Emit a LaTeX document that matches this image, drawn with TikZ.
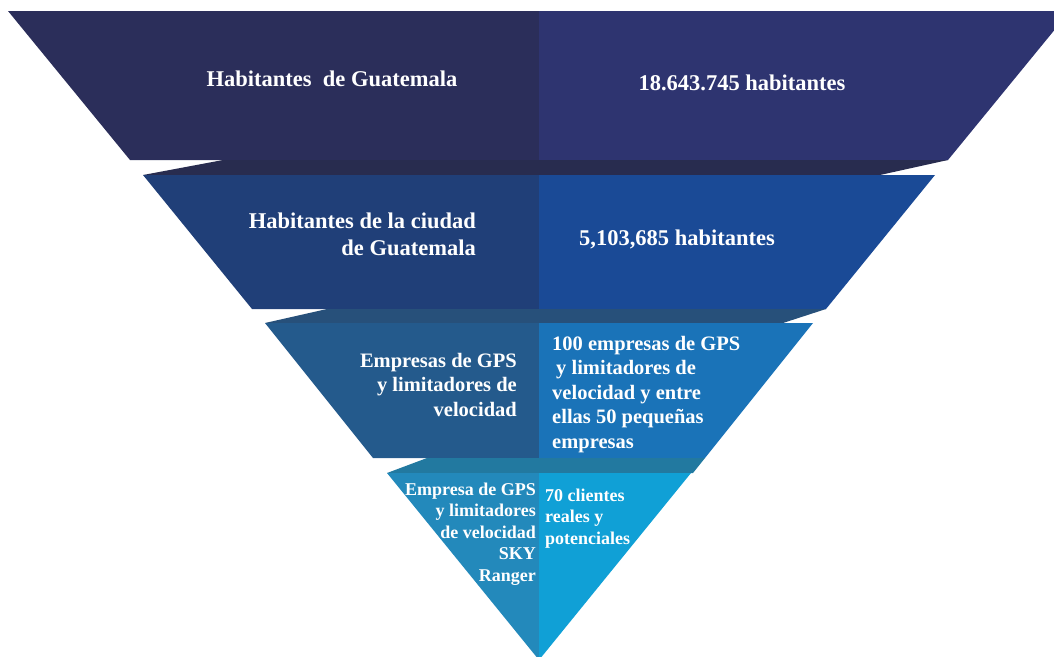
\documentclass[tikz,border=0pt]{standalone}
\usepackage{fontspec}
\setmainfont{Liberation Serif}
\definecolor{aL}{HTML}{2B2E5A}
\definecolor{aR}{HTML}{2E3470}
\definecolor{aS}{HTML}{282C4F}
\definecolor{bL}{HTML}{203F78}
\definecolor{bR}{HTML}{1A4A96}
\definecolor{bS}{HTML}{27507A}
\definecolor{cL}{HTML}{245A8C}
\definecolor{cR}{HTML}{1A73B8}
\definecolor{cS}{HTML}{2279A0}
\definecolor{dL}{HTML}{2389BB}
\definecolor{dR}{HTML}{10A0D6}
\tikzset{
  lbl/.style={text=white, inner sep=0pt, font=\bfseries},
  big/.style={lbl, font=\bfseries\fontsize{22.5}{27}\selectfont},
  mid/.style={lbl, font=\bfseries\fontsize{20.5}{24.5}\selectfont},
  sml/.style={lbl, font=\bfseries\fontsize{18}{21.5}\selectfont},
}
\begin{document}
\begin{tikzpicture}[x=1pt,y=-1pt]
\useasboundingbox (0,0) rectangle (1054,656);
\clip (0,0) rectangle (1054,656);
% layer 1
\fill[aL] (8,11) -- (539,11) -- (539,160) -- (130,160) -- cycle;
\fill[aR] (539,11) -- (1070,11) -- (948,160) -- (539,160) -- cycle;
\fill[aS] (223,160) -- (948,160) -- (880,175) -- (143,175) -- cycle;
% layer 2
\fill[bL] (143,175) -- (539,175) -- (539,309) -- (252,309) -- cycle;
\fill[bR] (539,175) -- (935,175) -- (826,309) -- (539,309) -- cycle;
\fill[bS] (327,309) -- (826,309) -- (783,323) -- (265,323) -- cycle;
% layer 3
\fill[cL] (265,323) -- (539,323) -- (539,458) -- (373,458) -- cycle;
\fill[cR] (539,323) -- (813,323) -- (705,458) -- (539,458) -- cycle;
\fill[cS] (427,458) -- (705,458) -- (693,473) -- (387,473) -- cycle;
% layer 4
\fill[dL] (387,473) -- (539,473) -- (539,660) -- cycle;
\fill[dR] (539,473) -- (691,473) -- (539,660) -- cycle;
% texts
\node[big, anchor=base] (t1l) at (332,86) {Habitantes\ \ de Guatemala};
\node[big, anchor=base] (t1r) at (742,90) {18.643.745 habitantes};
\node[big, anchor=north east, align=right] (t2l) at (476,212.5) {Habitantes de la ciudad\\de Guatemala};
\node[big, anchor=base west] (t2r) at (579,245) {5,103,685 habitantes};
\node[mid, anchor=north east, align=right] (t3l) at (517,353) {Empresas de GPS\\y limitadores de\\velocidad};
\node[mid, anchor=north west, align=left] (t3r) at (552,336) {100 empresas de GPS\\\hspace*{4pt}y limitadores de\\velocidad y entre\\ellas 50 pequeñas\\empresas};
\node[sml, anchor=north east, align=right] (t4l) at (536,482.6) {Empresa de GPS\\y limitadores\\de velocidad\\SKY\\Ranger};
\node[sml, anchor=north west, align=left] (t4r) at (545,488.6) {70 clientes\\reales y\\potenciales};
\end{tikzpicture}
\end{document}
